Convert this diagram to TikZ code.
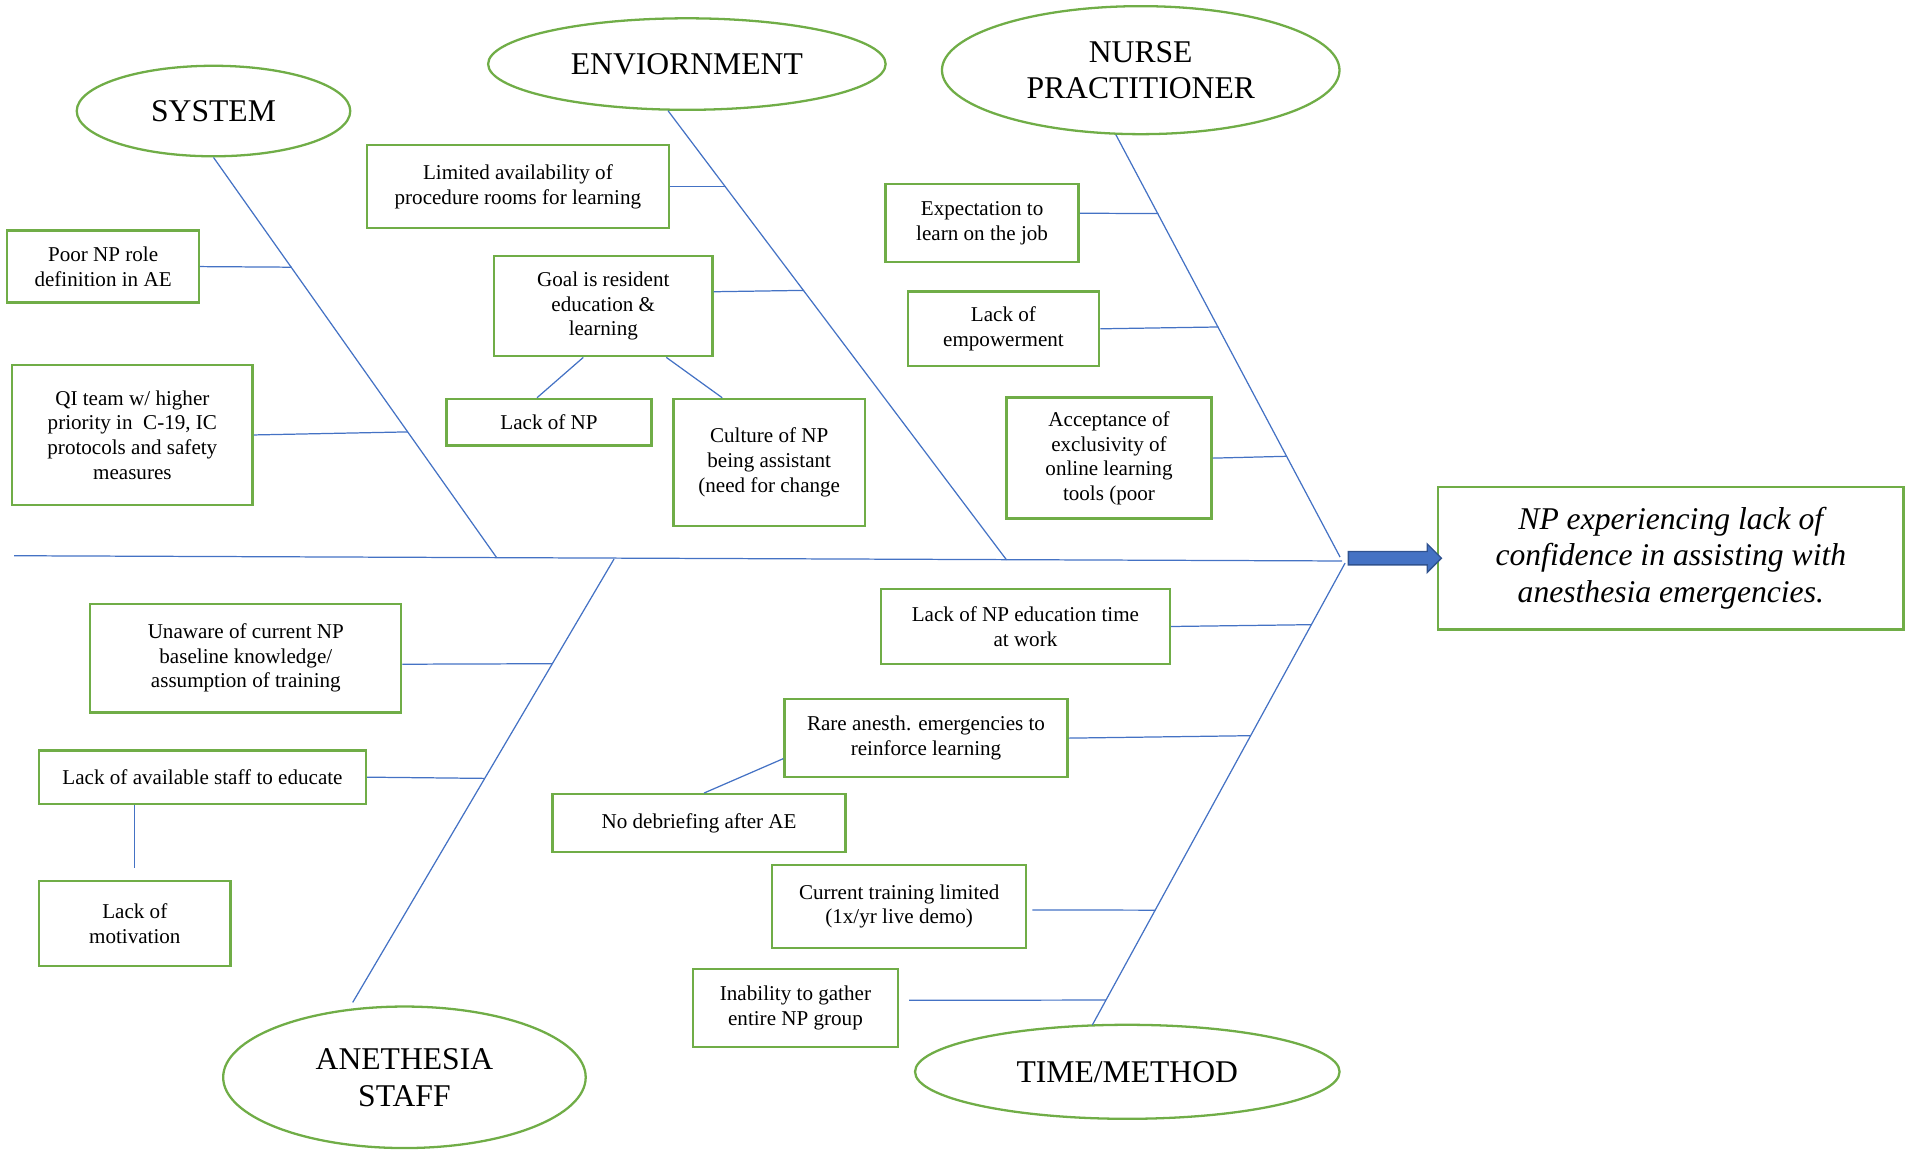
\documentclass[tikz,border=0pt]{standalone}
\usepackage{fontspec}
\setmainfont{Liberation Serif}
\usetikzlibrary{shapes.geometric,shapes.arrows}
\definecolor{boxgreen}{HTML}{70AD47}
\definecolor{boneblue}{HTML}{4472C4}
\definecolor{arrowedge}{HTML}{2F528F}

\begin{document}
\begin{tikzpicture}[x=0.0244cm, y=-0.0244cm,
    cause/.style={draw=boxgreen, line width=1.3pt, align=center, inner sep=2pt,
        font=\fontsize{12}{14}\selectfont},
    group/.style={draw=boxgreen, line width=1.3pt, ellipse, align=center, inner sep=1pt,
        font=\fontsize{18}{21}\selectfont},
    effect/.style={cause, font=\fontsize{18}{21}\selectfont\itshape},
    bone/.style={draw=boneblue, line width=0.7pt}]
                % Canvas
                \useasboundingbox (0,0) rectangle (1568,944);

                % --- GROUP HEADS ---
                \node[group, minimum width=5.47cm, minimum height=1.81cm] (system) at (175,91) {SYSTEM};
                \node[group, minimum width=7.95cm, minimum height=1.83cm] (env) at (563,52.5) {ENVIORNMENT};
                \node[group, minimum width=7.95cm, minimum height=2.56cm] (nurse) at (935,57.5) {NURSE\\PRACTITIONER};
                \node[group, minimum width=7.25cm, minimum height=2.83cm] (anest) at (331.5,883) {ANETHESIA\\STAFF};
                \node[group, minimum width=8.49cm, minimum height=1.88cm] (timem) at (924,878.5) {TIME/METHOD};

                % --- EFFECT ---
                \node[effect, minimum width=9.30cm, minimum height=2.85cm] (effect) at (1369.5,457.5)
                    {NP experiencing lack of\\confidence in assisting with\\anesthesia emergencies.};
                \node[single arrow, fill=boneblue, draw=arrowedge, line width=0.8pt,
                    minimum height=1.86cm, minimum width=0.54cm, inner xsep=0pt, inner ysep=0.12cm,
                    single arrow head extend=0.15cm] (arrowhd) at (1140.6,457.5) {};

                % --- SPINE & BONES ---
                \coordinate (tail) at (11.5,455.5);
                \coordinate (head) at (1100,459.8);
                \coordinate (jsys) at (407.1,457.1);
                \coordinate (jenv) at (825,458.9);
                \coordinate (jnp) at (1098.4,456.6);
                \coordinate (jan) at (503.3,458.2);
                \coordinate (jtm) at (1102.5,461.5);
                \coordinate (anend) at (289.1,821.6);
                \coordinate (tmend) at (895.3,840.2);

                \draw[bone] (tail) -- (head);
                \draw[bone] (system.270) -- (jsys);
                \draw[bone] (env.248) -- (jenv);
                \draw[bone] (nurse.249) -- (jnp);
                \draw[bone] (jan) -- (anend);
                \draw[bone] (jtm) -- (tmend);

                % --- SYSTEM causes ---
                \node[cause, minimum width=3.83cm, minimum height=1.44cm] (poor) at (84.5,218.5)
                    {Poor NP role\\definition in AE};
                \node[cause, minimum width=4.81cm, minimum height=2.81cm] (qi) at (108.5,356.5)
                    {QI team w/ higher\\priority in\ \ C-19, IC\\protocols and safety\\measures};
                \coordinate (cpoor) at (239.2,219);
                \coordinate (cqi) at (334.4,354);
                \draw[bone] (poor.east) -- (cpoor);
                \draw[bone] (qi.east) -- (cqi);

                % --- ENVIORNMENT causes ---
                \node[cause, minimum width=6.03cm, minimum height=1.66cm] (limited) at (424.5,153)
                    {Limited availability of\\procedure rooms for learning};
                \node[cause, minimum width=4.37cm, minimum height=2.00cm] (goal) at (494.5,251)
                    {Goal is resident\\education \&\\learning};
                \node[cause, minimum width=4.10cm, minimum height=0.93cm] (lacknp) at (450,346) {Lack of NP};
                \node[cause, minimum width=3.83cm, minimum height=2.54cm] (culture) at (630.5,379)
                    {Culture of NP\\being assistant\\(need for change};
                \coordinate (climit) at (595.3,153);
                \coordinate (cgoal) at (659.1,238);
                \draw[bone] (limited.east) -- (climit);
                \draw[bone] ([yshift=0.29cm]goal.east) -- (cgoal);
                \draw[bone] ([xshift=-0.40cm]goal.south) -- ([xshift=-0.24cm]lacknp.north);
                \draw[bone] ([xshift=1.26cm]goal.south) -- ([xshift=-0.94cm]culture.north);

                % --- NURSE PRACTITIONER causes ---
                \node[cause, minimum width=3.86cm, minimum height=1.56cm] (expect) at (805,183)
                    {Expectation to\\learn on the job};
                \node[cause, minimum width=3.83cm, minimum height=1.49cm] (empower) at (822.5,269.5)
                    {Lack of\\empowerment};
                \node[cause, minimum width=4.10cm, minimum height=2.42cm] (accept) at (909,375.5)
                    {Acceptance of\\exclusivity of\\online learning\\tools (poor};
                \coordinate (cexpect) at (949.4,175);
                \coordinate (cempow) at (998.6,268);
                \coordinate (caccept) at (1054.7,374);
                \draw[bone] ([yshift=0.2cm]expect.east) -- (cexpect);
                \draw[bone] (empower.east) -- (cempow);
                \draw[bone] (accept.east) -- (caccept);

                % --- ANETHESIA STAFF causes ---
                \node[cause, minimum width=6.22cm, minimum height=2.17cm] (unaware) at (201.5,539.5)
                    {Unaware of current NP\\baseline knowledge/\\assumption of training};
                \node[cause, minimum width=6.54cm, minimum height=1.07cm] (avail) at (166,637)
                    {Lack of available staff to educate};
                \node[cause, minimum width=3.83cm, minimum height=1.71cm] (motiv) at (110.5,757)
                    {Lack of\\motivation};
                \coordinate (cunaw) at (452.7,544);
                \coordinate (cavail) at (397.3,638);
                \draw[bone] ([yshift=-0.12cm]unaware.east) -- (cunaw);
                \draw[bone] (avail.east) -- (cavail);
                \draw[bone] (avail.south -| motiv.north) -- ([yshift=0.24cm]motiv.north);

                % --- TIME/METHOD causes ---
                \node[cause, minimum width=5.78cm, minimum height=1.49cm] (edutime) at (840.5,513.5)
                    {Lack of NP education time\\at work};
                \node[cause, minimum width=5.66cm, minimum height=1.56cm] (rare) at (759,605)
                    {Rare anesth. emergencies to\\reinforce learning};
                \node[cause, minimum width=5.86cm, minimum height=1.15cm] (debrief) at (573,674.5)
                    {No debriefing after AE};
                \node[cause, minimum width=5.08cm, minimum height=1.66cm] (current) at (737,743)
                    {Current training limited\\(1x/yr live demo)};
                \node[cause, minimum width=4.10cm, minimum height=1.56cm] (inabil) at (652,826)
                    {Inability to gather\\entire NP group};
                \coordinate (cedu) at (1074.9,512);
                \coordinate (crare) at (1025.1,603);
                \coordinate (ccurr) at (946.9,746);
                \coordinate (cinab) at (906.5,819.7);
                \draw[bone] (edutime.east) -- (cedu);
                \draw[bone] (rare.east) -- (crare);
                \draw[bone] ([yshift=-0.41cm]rare.west) -- ([xshift=0.1cm]debrief.north);
                \draw[bone] ([xshift=0.1cm,yshift=-0.07cm]current.east) -- (ccurr);
                \draw[bone] ([xshift=0.2cm,yshift=0.15cm]inabil.east) -- (cinab);
\end{tikzpicture}
\end{document}
